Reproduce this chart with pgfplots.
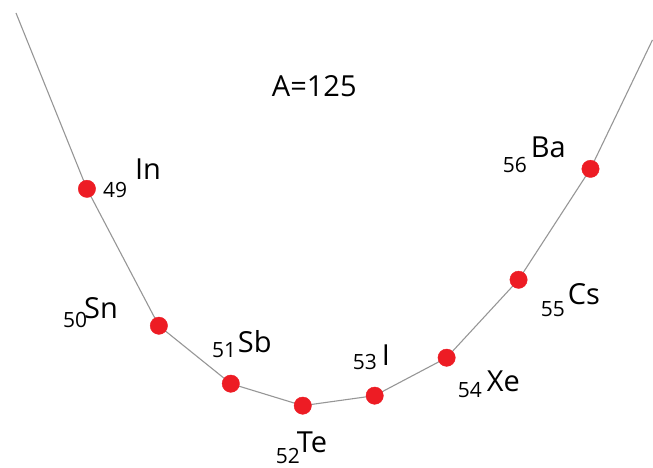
\documentclass[border=0pt]{standalone}
\usepackage{pgfplots}
\pgfplotsset{compat=1.18}
\usepackage{fontspec}
\setmainfont{Open Sans}
\definecolor{dotred}{RGB}{237,28,36}
\definecolor{curvegray}{RGB}{150,150,150}
\tikzset{
  zlab/.style={anchor=base west, inner sep=0pt, font=\fontsize{21}{21}\selectfont},
  elab/.style={anchor=base west, inner sep=0pt, font=\fontsize{29}{29}\selectfont},
}
\begin{document}
\begin{tikzpicture}
\begin{axis}[
  width=653pt, height=468pt, scale only axis,
  hide axis, clip=false,
  xmin=47.7917, xmax=56.8611,
  ymin=0, ymax=468,
]
% the isobar parabola, continued past the end points
\addplot[curvegray, line width=1.1pt] coordinates {
  (48.0139,455) (49,279) (50,142) (51,84) (52,62) (53,72)
  (54,110) (55,188) (56,299) (56.8611,428)
};
% nuclides of mass number 125
\addplot[only marks, mark=*, mark size=8.7pt, color=dotred] coordinates {
  (49,279) (50,142) (51,84) (52,62) (53,72) (54,110) (55,188) (56,299)
};
% atomic numbers
\node[zlab] at (axis cs:49.222,270) {49};
\node[zlab] at (axis cs:48.667,140) {50};
\node[zlab] at (axis cs:50.736,110) {51};
\node[zlab] at (axis cs:51.625,4)   {52};
\node[zlab] at (axis cs:52.694,98)  {53};
\node[zlab] at (axis cs:54.153,70)  {54};
\node[zlab] at (axis cs:55.306,151) {55};
\node[zlab] at (axis cs:54.778,295) {56};
% element symbols
\node[elab] at (axis cs:49.667,288) {In};
\node[elab] at (axis cs:48.958,149) {Sn};
\node[elab] at (axis cs:51.097,115) {Sb};
\node[elab] at (axis cs:51.917,15)  {Te};
\node[elab] at (axis cs:53.097,102) {I};
\node[elab] at (axis cs:54.556,76)  {Xe};
\node[elab] at (axis cs:55.681,163) {Cs};
\node[elab] at (axis cs:55.167,310) {Ba};
\node[elab] at (axis cs:51.569,371) {A=125};
\path[use as bounding box] (rel axis cs:0,0) rectangle (rel axis cs:1,1);
\end{axis}
\end{tikzpicture}
\end{document}
